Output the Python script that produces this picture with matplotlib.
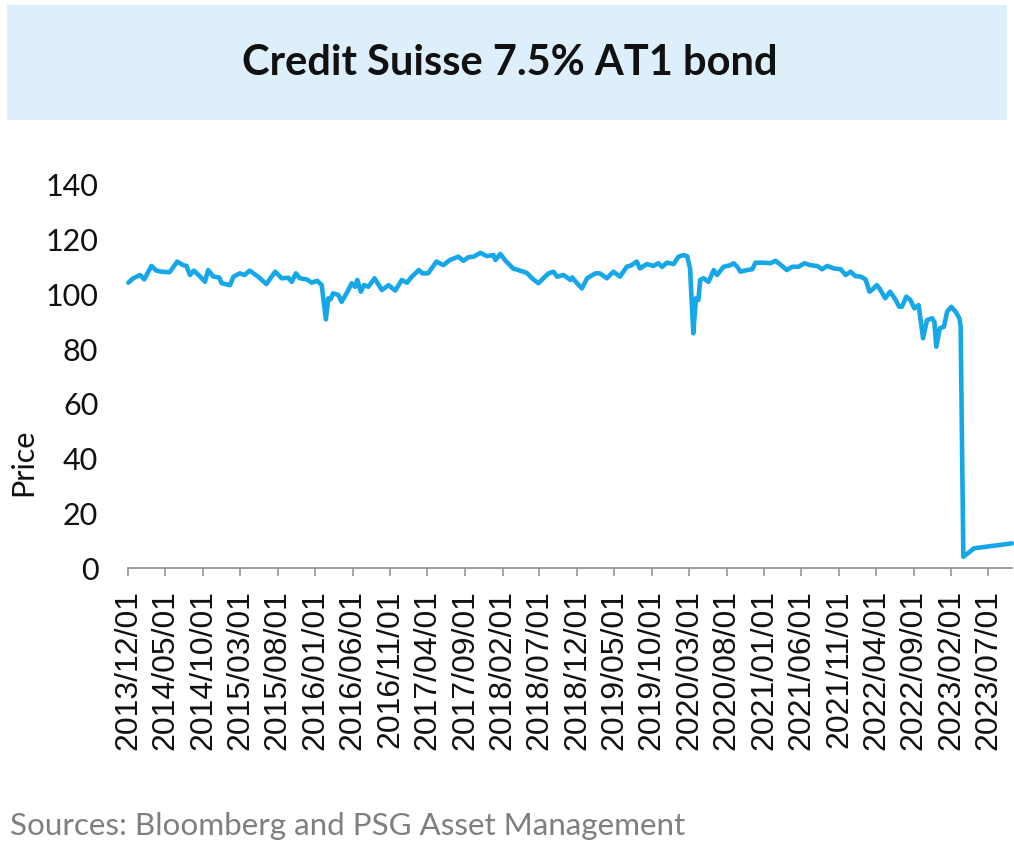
import matplotlib
matplotlib.use("Agg")
import matplotlib.pyplot as plt
import pandas as pd
from matplotlib.patches import Rectangle
from matplotlib.ticker import FixedLocator, FixedFormatter
import matplotlib.dates as mdates

title = "Credit Suisse 7.5% AT1 bond"
source = "Sources: Bloomberg and PSG Asset Management"
y_label = "Price"

dates = [
    "2013-12-01", "2013-12-21", "2014-01-18", "2014-02-04", "2014-03-05", "2014-03-25",
    "2014-04-15", "2014-05-18", "2014-06-18", "2014-07-12", "2014-07-26", "2014-08-09",
    "2014-08-25", "2014-09-26", "2014-10-09", "2014-10-22", "2014-11-12", "2014-12-06",
    "2014-12-16", "2015-01-19", "2015-02-02", "2015-02-28", "2015-03-19", "2015-04-09",
    "2015-05-13", "2015-06-16", "2015-07-07", "2015-07-22", "2015-08-17", "2015-09-13",
    "2015-09-27", "2015-10-14", "2015-10-30", "2015-11-27", "2015-12-17", "2016-01-09",
    "2016-01-27", "2016-02-13", "2016-02-23", "2016-03-03", "2016-03-13", "2016-04-04",
    "2016-04-17", "2016-05-07", "2016-05-21", "2016-05-28", "2016-06-11", "2016-06-20",
    "2016-07-04", "2016-07-17", "2016-08-04", "2016-08-29", "2016-09-28", "2016-10-25",
    "2016-11-21", "2016-12-18", "2017-01-08", "2017-01-28", "2017-02-25", "2017-03-12",
    "2017-04-04", "2017-05-08", "2017-06-05", "2017-07-02", "2017-08-05", "2017-08-26",
    "2017-09-15", "2017-10-06", "2017-11-03", "2017-11-29", "2017-12-26", "2018-01-03",
    "2018-01-23", "2018-02-13", "2018-03-16", "2018-04-13", "2018-05-10", "2018-06-06",
    "2018-06-27", "2018-07-17", "2018-08-07", "2018-08-27", "2018-09-11", "2018-10-07",
    "2018-11-04", "2018-11-11", "2018-12-01", "2018-12-21", "2019-01-11", "2019-02-14",
    "2019-03-04", "2019-04-01", "2019-04-28", "2019-05-25", "2019-06-21", "2019-07-11",
    "2019-08-01", "2019-08-14", "2019-09-11", "2019-10-08", "2019-10-28", "2019-11-12",
    "2019-12-02", "2019-12-29", "2020-01-18", "2020-02-08", "2020-02-22", "2020-03-05",
    "2020-03-18", "2020-03-29", "2020-04-08", "2020-04-15", "2020-04-29", "2020-05-19",
    "2020-06-09", "2020-06-23", "2020-07-19", "2020-08-16", "2020-08-29", "2020-09-13",
    "2020-09-26", "2020-10-23", "2020-11-13", "2020-11-26", "2020-12-29", "2021-01-26",
    "2021-02-16", "2021-03-06", "2021-04-03", "2021-04-24", "2021-05-20", "2021-06-13",
    "2021-07-07", "2021-08-04", "2021-08-24", "2021-09-14", "2021-10-11", "2021-11-08",
    "2021-11-28", "2021-12-18", "2022-01-07", "2022-01-28", "2022-02-17", "2022-03-05",
    "2022-03-18", "2022-04-04", "2022-04-17", "2022-05-08", "2022-05-28", "2022-06-18",
    "2022-07-04", "2022-07-15", "2022-08-02", "2022-08-18", "2022-09-04", "2022-09-21",
    "2022-10-09", "2022-10-25", "2022-11-15", "2022-11-24", "2022-12-02", "2022-12-16",
    "2023-01-02", "2023-01-15", "2023-02-01", "2023-02-18", "2023-03-06", "2023-03-11",
    "2023-03-22", "2023-05-05", "2023-10-06",
]

prices = [
    104.3, 105.9, 107.1, 105.5, 110.4, 108.7,
    108.3, 108.1, 112.0, 110.7, 110.4, 107.1,
    108.7, 105.9, 104.6, 108.9, 106.5, 106.2,
    104.1, 103.4, 106.5, 107.7, 107.1, 108.7,
    106.5, 103.8, 106.5, 108.3, 105.9, 106.1,
    104.6, 107.7, 105.9, 105.5, 104.3, 105.0,
    103.4, 90.9, 98.6, 98.2, 100.4, 99.8,
    97.3, 100.4, 102.8, 104.1, 102.8, 105.3,
    101.0, 103.4, 102.8, 105.9, 101.6, 103.4,
    101.4, 105.3, 104.3, 106.5, 108.9, 107.7,
    107.7, 112.0, 110.7, 112.6, 113.8, 112.3,
    113.6, 113.8, 115.2, 114.0, 114.4, 112.6,
    114.8, 112.3, 109.5, 108.7, 107.9, 105.5,
    104.1, 105.9, 107.7, 108.3, 106.5, 107.1,
    105.3, 106.2, 104.1, 102.2, 105.9, 107.7,
    107.7, 105.9, 108.3, 106.5, 110.1, 110.7,
    112.0, 109.5, 111.1, 110.4, 111.4, 110.1,
    111.6, 111.1, 113.8, 114.4, 114.0, 109.5,
    85.8, 98.6, 98.0, 105.3, 105.9, 104.6,
    108.9, 107.1, 110.1, 110.7, 111.4, 110.1,
    108.3, 108.9, 109.2, 111.6, 111.6, 111.4,
    112.3, 111.0, 108.9, 110.1, 110.1, 111.4,
    110.7, 110.4, 109.2, 110.4, 109.5, 109.2,
    107.1, 108.3, 106.7, 106.5, 105.5, 101.0,
    101.9, 103.4, 101.9, 98.6, 101.0, 98.2,
    95.5, 95.5, 99.2, 98.0, 94.9, 96.1,
    84.0, 90.6, 91.3, 90.0, 80.9, 87.6,
    88.2, 93.7, 95.5, 93.7, 91.3, 88.2,
    4.1, 7.2, 9.0,
]

x_tick_labels = [
    "2013/12/01", "2014/05/01", "2014/10/01", "2015/03/01", "2015/08/01",
    "2016/01/01", "2016/06/01", "2016/11/01", "2017/04/01", "2017/09/01",
    "2018/02/01", "2018/07/01", "2018/12/01", "2019/05/01", "2019/10/01",
    "2020/03/01", "2020/08/01", "2021/01/01", "2021/06/01", "2021/11/01",
    "2022/04/01", "2022/09/01", "2023/02/01", "2023/07/01",
]
y_ticks = [0, 20, 40, 60, 80, 100, 120, 140]

W, H = 1014, 848
fig = plt.figure(figsize=(W / 100, H / 100), dpi=100)

# title banner
fig.patches.append(Rectangle((7 / W, 1 - 120 / H), 1000 / W, 115 / H,
                             transform=fig.transFigure, facecolor="#DDEFFA",
                             edgecolor="none", zorder=0))
fig.text(510 / W, 1 - 63 / H, title, ha="center", va="center",
         fontfamily="Lato", fontweight="bold", fontsize=30, color="#111111")

ax = fig.add_axes([128.3 / W, 280 / H, (1012 - 128.3) / W, 383 / H])
x = pd.to_datetime(dates)
ax.plot(x, prices, color="#15A7E8", lw=3.3, solid_joinstyle="round",
        solid_capstyle="round", clip_on=False)

ax.set_ylim(0, 140)
ax.set_yticks(y_ticks)
ax.set_yticklabels([str(v) for v in y_ticks], fontfamily="Lato", fontsize=22,
                   color="#111111")
ax.set_xlim(x[0], x[-1])
tick_dates = pd.to_datetime(x_tick_labels, format="%Y/%m/%d")
ax.xaxis.set_major_locator(FixedLocator(mdates.date2num(tick_dates)))
ax.xaxis.set_major_formatter(FixedFormatter(x_tick_labels))
for lab in ax.get_xticklabels():
    lab.set_fontfamily("Liberation Sans")
    lab.set_fontsize(23)
    lab.set_rotation(90)
    lab.set_color("#111111")

for s in ("top", "right", "left"):
    ax.spines[s].set_visible(False)
ax.spines["bottom"].set_color("#8C8C8C")
ax.spines["bottom"].set_linewidth(1.2)
ax.tick_params(axis="y", length=0, pad=21.6)
ax.tick_params(axis="x", length=6, width=1.1, color="#8C8C8C", pad=10)

fig.text(23.5 / W, 1 - 462 / H, y_label, rotation=90, ha="center", va="center",
         fontfamily="Lato", fontsize=22, color="#111111")
fig.text(10 / W, 1 - 826 / H, source, ha="left", va="center",
         fontfamily="Lato", fontsize=22.6, color="#7F7F7F")

fig.savefig("out.png", dpi=100)
